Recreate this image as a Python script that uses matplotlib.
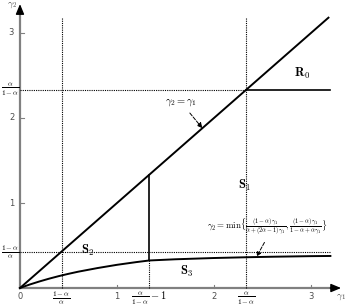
import matplotlib.pyplot as plt

plt.rcParams['mathtext.fontset'] = 'cm'

# alpha = 0.7 -> key levels
a_ratio = 7 / 3      # alpha/(1-alpha)
inv_ratio = 3 / 7    # (1-alpha)/alpha
knee = 4 / 3         # alpha/(1-alpha) - 1

# gamma2 = gamma1 diagonal
diag_x = [0, 3.18]
diag_y = [0, 3.18]

# lower boundary curve
curve_x = [0, 0.05, 0.1, 0.2, 0.3, 0.4, 0.5, 0.6, 0.8, 1.0, 1.2, 1.333,
           1.6, 2.0, 2.333, 2.6, 3.0, 3.2]
curve_y = [0, 0.021, 0.041, 0.077, 0.110, 0.140, 0.167, 0.192, 0.235, 0.273,
           0.305, 0.324, 0.338, 0.353, 0.362, 0.368, 0.375, 0.377]

x_ticks = [1, 2, 3]
y_ticks = [1, 2, 3]

fig = plt.figure(figsize=(3.46, 3.08), dpi=100)
ax = fig.add_axes([0, 0, 1, 1])
ax.set_xlim(-0.206, 3.361)
ax.set_ylim(-0.235, 3.388)
ax.axis('off')

axis_col = '0.5'
# axes with arrows
ax.plot([0, 3.25], [0, 0], color=axis_col, lw=1.6)
ax.plot([0, 0], [0, 3.28], color=axis_col, lw=1.6)
ax.annotate('', xy=(3.31, 0), xytext=(3.2, 0),
            arrowprops=dict(arrowstyle='-|>,head_length=0.6,head_width=0.25', color='k', lw=1,
                            shrinkA=0, shrinkB=0))
ax.annotate('', xy=(0, 3.34), xytext=(0, 3.23),
            arrowprops=dict(arrowstyle='-|>,head_length=0.6,head_width=0.25', color='k', lw=1,
                            shrinkA=0, shrinkB=0))

for t in x_ticks:
    ax.plot([t, t], [0, 0.04], color=axis_col, lw=0.8)
    ax.text(t, -0.05, str(t), ha='center', va='top', fontsize=6, color='0.3')
for t in y_ticks:
    ax.plot([0, 0.04], [t, t], color=axis_col, lw=0.8)
    ax.text(-0.06, t, str(t), ha='right', va='center', fontsize=6, color='0.3')
ax.text(0, -0.05, '0', ha='center', va='top', fontsize=6, color='0.3')

# fraction labels
ax.text(inv_ratio, -0.02, r'$\frac{1-\alpha}{\alpha}$', ha='center', va='top', fontsize=7.5)
ax.text(knee, -0.02, r'$\frac{\alpha}{1-\alpha}-1$', ha='center', va='top', fontsize=7.5)
ax.text(a_ratio, -0.02, r'$\frac{\alpha}{1-\alpha}$', ha='center', va='top', fontsize=7.5)
ax.text(-0.1, a_ratio, r'$\frac{\alpha}{1-\alpha}$', ha='center', va='center', fontsize=7.5)
ax.text(-0.1, inv_ratio, r'$\frac{1-\alpha}{\alpha}$', ha='center', va='center', fontsize=7.5)
ax.text(3.31, -0.11, r'$\gamma_1$', ha='center', va='center', fontsize=7, color='0.3')
ax.text(-0.08, 3.33, r'$\gamma_2$', ha='center', va='center', fontsize=7, color='0.3')

# dotted guides
dot = dict(color='k', lw=0.8, ls=(0, (1, 1)))
ax.plot([inv_ratio, inv_ratio], [0, 3.19], **dot)
ax.plot([a_ratio, a_ratio], [0, 3.19], **dot)
ax.plot([knee, knee], [0, 0.324], **dot)
ax.plot([0, 3.2], [inv_ratio, inv_ratio], **dot)
ax.plot([0, a_ratio], [a_ratio, a_ratio], **dot)

# solid boundaries
ax.plot(diag_x, diag_y, color='k', lw=1.4)
ax.plot(curve_x, curve_y, color='k', lw=1.4)
ax.plot([knee, knee], [0.324, knee], color='k', lw=1.2)
ax.plot([a_ratio, 3.2], [a_ratio, a_ratio], color='k', lw=1.2)

# region labels
ax.text(2.91, 2.53, r'$\mathbf{R}_0$', fontsize=9, ha='center', va='center')
ax.text(2.32, 1.21, r'$\mathbf{S}_1$', fontsize=9, ha='center', va='center')
ax.text(0.7, 0.44, r'$\mathbf{S}_2$', fontsize=9, ha='center', va='center')
ax.text(1.72, 0.19, r'$\mathbf{S}_3$', fontsize=9, ha='center', va='center')

arr = dict(arrowstyle='-|>,head_length=0.4,head_width=0.2', color='k', lw=0.7, ls='--',
           shrinkA=2, shrinkB=0)
ax.annotate(r'$\gamma_2=\gamma_1$', xy=(1.88, 1.88), xytext=(1.66, 2.18),
            ha='center', va='center', fontsize=7.5,
            arrowprops=dict(arr, relpos=(0.65, 0)))
ax.annotate(r'$\gamma_2=\min\{\frac{(1-\alpha)\gamma_1}{\alpha+(2\alpha-1)\gamma_1},'
            r'\frac{(1-\alpha)\gamma_1}{1-\alpha+\alpha\gamma_1}\}$',
            xy=(2.44, 0.37), xytext=(2.55, 0.72),
            ha='center', va='center', fontsize=6.4,
            arrowprops=dict(arr, relpos=(0.5, 0)))

fig.savefig('out.png', dpi=100)
